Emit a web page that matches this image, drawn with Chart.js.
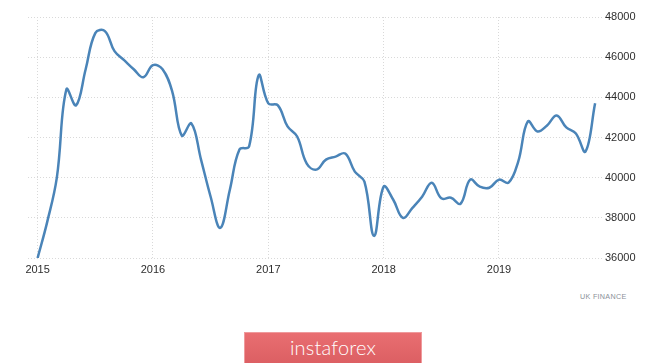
<!DOCTYPE html>
<html>
<head>
<meta charset="utf-8">
<script src="https://cdn.jsdelivr.net/npm/chart.js@4.4.1/dist/chart.umd.min.js"></script>
<style>
  body { margin: 0; background: #fff; width: 665px; height: 363px; overflow: hidden; position: relative; font-family: 'Liberation Sans', Arial, sans-serif; }
  #wrap { position: absolute; left: 0; top: 0; width: 665px; height: 290px; }
  #source { position: absolute; left: 580px; top: 292px; font-size: 7.2px; color: #8a9098; letter-spacing: 0.3px; }
  #btn { position: absolute; left: 244px; top: 332px; width: 178px; height: 31px; box-sizing: border-box;
         background: linear-gradient(#e96e71, #dc5f63); border: 1px solid #ef9a9c; border-bottom: none;
         color: #fff; font-family: Lato, sans-serif; font-weight: 300; font-size: 20px; letter-spacing: 0.2px;
         text-align: center; line-height: 28px; }
</style>
</head>
<body>
<div id="wrap"><canvas id="chart"></canvas></div>
<div id="source">UK FINANCE</div>
<div id="btn">instaforex</div>
<script>
// monthly values, Jan 2015 .. Nov 2019
const approvals = [
  36000, 37800, 40000, 44400, 43600, 45400, 47200, 47300, 46300, 45850, 45400, 45000,
  45600, 45400, 44300, 42100, 42700, 40900, 39050, 37500, 39400, 41400, 41550, 45100,
  43700, 43600, 42550, 42050, 40700, 40400, 40900, 41050, 41200, 40300, 39800, 37100,
  39550, 38900, 38000, 38500, 39050, 39750, 38970, 39000, 38700, 39900, 39550, 39500,
  39900, 39750, 40800, 42800, 42300, 42600, 43100, 42500, 42200, 41300, 43700
];
const yearLabels = ['2015', '2016', '2017', '2018', '2019'];
const yearTicks = [0, 12, 24, 36, 48]; // month index of each January
const yTicks = [36000, 38000, 40000, 42000, 44000, 46000, 48000];

const points = approvals.map((v, i) => ({ x: i, y: v }));

const tickFont = { family: "'Liberation Sans', Arial, sans-serif", size: 11 };

const ctx = document.getElementById('chart').getContext('2d');
const chart = new Chart(ctx, {
  type: 'line',
  data: {
    datasets: [{
      data: points,
      borderColor: '#4a84b8',
      borderWidth: 2.5,
      pointRadius: 0,
      tension: 0.4,
      fill: false
    }]
  },
  options: {
    responsive: true,
    maintainAspectRatio: false,
    animation: false,
    layout: { padding: { left: 28, top: 17, right: 0, bottom: 0 } },
    plugins: { legend: { display: false }, tooltip: { enabled: false } },
    scales: {
      x: {
        type: 'linear',
        min: -1,
        max: 58.3,
        afterBuildTicks: (scale) => { scale.ticks = yearTicks.map(v => ({ value: v })); },
        afterFit: (scale) => { scale.height = 32; },
        border: { display: false, dash: [1, 2] },
        grid: { color: '#d9d9d9', drawTicks: false },
        ticks: {
          padding: 5,
          color: '#2e2e2e',
          font: tickFont,
          maxRotation: 0,
          autoSkip: false,
          callback: (v) => yearLabels[yearTicks.indexOf(v)]
        }
      },
      y: {
        position: 'right',
        min: 36000,
        max: 48000,
        afterBuildTicks: (scale) => { scale.ticks = yTicks.map(v => ({ value: v })); },
        afterFit: (scale) => { scale.width = 67; },
        border: { display: false, dash: [1, 2] },
        grid: { color: '#d9d9d9', drawTicks: true, tickLength: 5, tickBorderDash: [1, 2] },
        ticks: {
          padding: 2,
          color: '#2e2e2e',
          font: tickFont,
          callback: (v) => String(v)
        }
      }
    }
  }
});
</script>
</body>
</html>
